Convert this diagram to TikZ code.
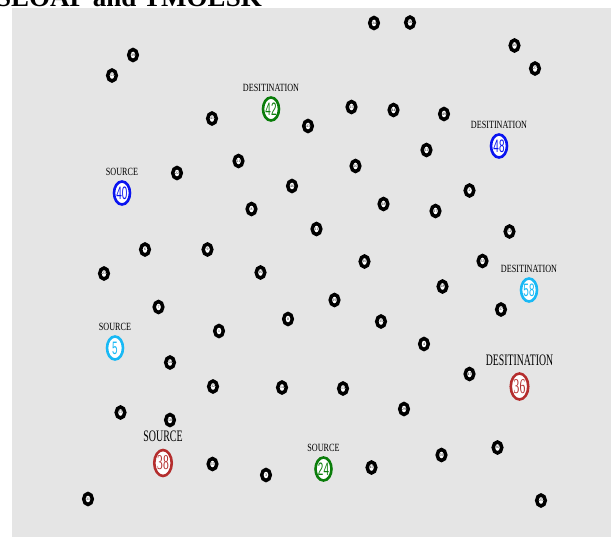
\documentclass[tikz,border=0pt]{standalone}
\usepackage{fontspec}
\setmainfont{Liberation Serif}
\newfontfamily\numfont{Liberation Sans}
\usetikzlibrary{positioning, shapes.geometric}
\definecolor{PanelGray}{HTML}{E5E5E5}
\definecolor{SrcBlue}{HTML}{0A14F0}
\definecolor{SrcGreen}{HTML}{0A7D0A}
\definecolor{SrcCyan}{HTML}{19B9F5}
\definecolor{SrcRed}{HTML}{B42D2D}
\newcommand{\squeeze}[2]{\scalebox{#1}[1]{#2}}

\begin{document}
\begin{tikzpicture}[
    x=1pt, y=-1pt,
    every node/.style={inner sep=0pt},
    host/.style={ellipse, draw=black, line width=3.5pt, fill=white, minimum width=8.5pt, minimum height=11pt, font=\fontsize{3.8}{3.8}\selectfont},
    endpt/.style={ellipse, line width=2.6pt, fill=white, minimum width=16pt, minimum height=23pt, font=\numfont\fontsize{18}{18}\selectfont},
    bigendpt/.style={endpt, minimum width=17.5pt, minimum height=26pt, font=\fontsize{21}{21}\selectfont},
    tag/.style={font=\fontsize{11}{11}\selectfont},
    bigtag/.style={font=\fontsize{16}{16}\selectfont}
  ]
    \useasboundingbox (0,0) rectangle (611,537);
    \clip (0,0) rectangle (611,537);
    \fill[PanelGray] (12,8) rectangle (611,537);
    \node[anchor=base west, font=\bfseries\fontsize{27}{27}\selectfont] (title) at (-4,7) {SEOAP and TMOESK};

    % source / destination pairs
    \node[endpt, draw=SrcGreen, text=SrcGreen] (s42) at (271,109) {\squeeze{0.55}{42}};
    \node[endpt, draw=SrcBlue, text=SrcBlue] (s48) at (499,146) {\squeeze{0.55}{48}};
    \node[endpt, draw=SrcBlue, text=SrcBlue] (s40) at (122,193) {\squeeze{0.55}{40}};
    \node[endpt, draw=SrcCyan, text=SrcCyan] (s58) at (529,290) {\squeeze{0.55}{58}};
    \node[endpt, draw=SrcCyan, text=SrcCyan] (s5) at (115,348) {\squeeze{0.55}{5}};
    \node[bigendpt, draw=SrcRed, text=SrcRed] (s36) at (519.5,386.5) {\squeeze{0.55}{36}};
    \node[bigendpt, draw=SrcRed, text=SrcRed] (s38) at (163,463) {\squeeze{0.55}{38}};
    \node[endpt, draw=SrcGreen, text=SrcGreen] (s24) at (323.5,469) {\squeeze{0.55}{24}};

    \node[tag, above=4.5pt of s42] (t42) {\squeeze{0.74}{DESITINATION}};
    \node[tag, above=4.5pt of s48] (t48) {\squeeze{0.74}{DESITINATION}};
    \node[tag, above=4.5pt of s40] (t40) {\squeeze{0.74}{SOURCE}};
    \node[tag, above=4.5pt of s58] (t58) {\squeeze{0.74}{DESITINATION}};
    \node[tag, above=4.5pt of s5] (t5) {\squeeze{0.74}{SOURCE}};
    \node[bigtag, above=6.5pt of s36] (t36) {\squeeze{0.61}{DESITINATION}};
    \node[bigtag, above=6.5pt of s38] (t38) {\squeeze{0.62}{SOURCE}};
    \node[tag, above=4.5pt of s24] (t24) {\squeeze{0.74}{SOURCE}};

    % ordinary nodes
    \node[host] (n34) at (374,23) {34};
    \node[host] (n56) at (410,22.5) {56};
    \node[host] (n26) at (514.5,45.5) {26};
    \node[host] (n27) at (535,68.5) {27};
    \node[host] (n39) at (133,55) {39};
    \node[host] (n53) at (112,75.5) {53};
    \node[host] (n41) at (212,118.5) {41};
    \node[host] (n43) at (308,126) {43};
    \node[host] (n15) at (351.5,107) {15};
    \node[host] (n44) at (393.5,110) {44};
    \node[host] (n49) at (444,114) {49};
    \node[host] (n12) at (426.5,150) {12};
    \node[host] (n22) at (177,173) {22};
    \node[host] (n21) at (238.5,161) {21};
    \node[host] (n46) at (292,186) {46};
    \node[host] (n20) at (355.5,166) {20};
    \node[host] (n2) at (469.5,190.5) {2};
    \node[host] (n8) at (251.5,209) {8};
    \node[host] (n18) at (383.5,204) {18};
    \node[host] (n17) at (435.5,211) {17};
    \node[host] (n11) at (316.5,229) {11};
    \node[host] (n52) at (509.5,231.5) {52};
    \node[host] (n6) at (145,249.5) {6};
    \node[host] (n9) at (207.5,249.5) {9};
    \node[host] (n23) at (104,273.5) {23};
    \node[host] (n10) at (260.5,272.5) {10};
    \node[host] (n16) at (364.5,261.5) {16};
    \node[host] (n33) at (482.5,261) {33};
    \node[host] (n28) at (442.5,286.5) {28};
    \node[host] (n7) at (158.5,307) {7};
    \node[host] (n19) at (334.5,300) {19};
    \node[host] (n37) at (501,309.5) {37};
    \node[host] (n0) at (288,319) {0};
    \node[host] (n1) at (219,331) {1};
    \node[host] (n35) at (381,321.5) {35};
    \node[host] (n4) at (424,344) {4};
    \node[host] (n54) at (170,362.5) {54};
    \node[host] (n47) at (469.5,374) {47};
    \node[host] (n32) at (213,386.5) {32};
    \node[host] (n14) at (282,387.5) {14};
    \node[host] (n13) at (343,388.5) {13};
    \node[host] (n29) at (404,409) {29};
    \node[host] (n57) at (120.5,412.5) {57};
    \node[host] (n50) at (170,420) {50};
    \node[host] (n55) at (212.5,464) {55};
    \node[host] (n3) at (266,475) {3};
    \node[host] (n45) at (371.5,467.5) {45};
    \node[host] (n59) at (441.5,455) {59};
    \node[host] (n30) at (497.5,447.5) {30};
    \node[host] (n31) at (88,499) {31};
    \node[host] (n25) at (541,500.5) {25};
\end{tikzpicture}
\end{document}
